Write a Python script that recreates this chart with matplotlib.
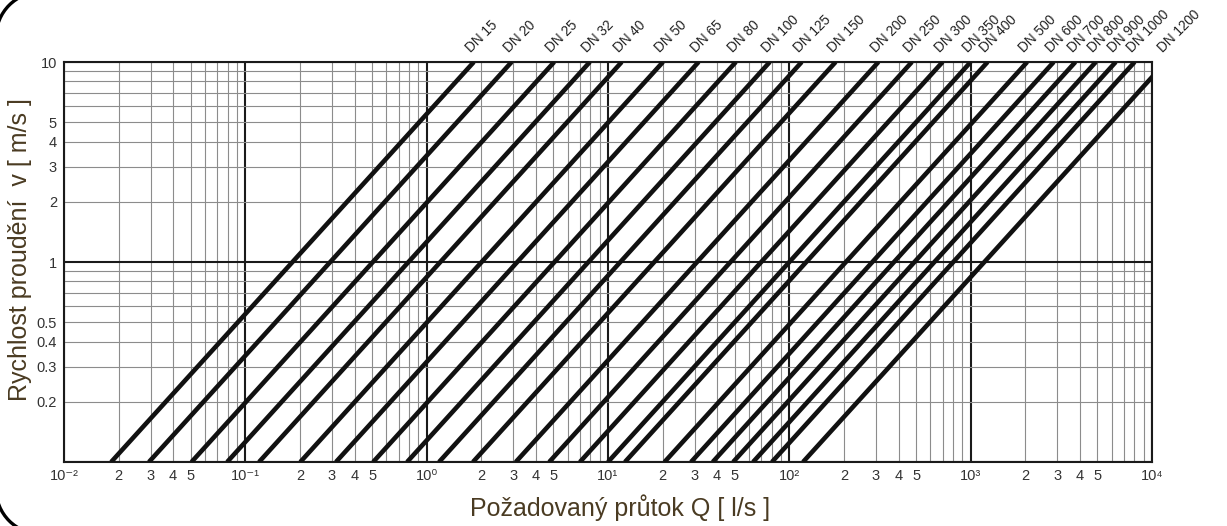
import numpy as np
import matplotlib
matplotlib.use('Agg')
import matplotlib.pyplot as plt
from matplotlib.patches import Arc
from matplotlib.ticker import FixedLocator, FuncFormatter
from matplotlib.transforms import IdentityTransform

plt.rcParams['font.family'] = ['Liberation Sans', 'DejaVu Sans']

# pipe sizes
dn_labels = ['DN 15', 'DN 20', 'DN 25', 'DN 32', 'DN 40', 'DN 50', 'DN 65', 'DN 80',
             'DN 100', 'DN 125', 'DN 150', 'DN 200', 'DN 250', 'DN 300', 'DN 350',
             'DN 400', 'DN 500', 'DN 600', 'DN 700', 'DN 800', 'DN 900', 'DN 1000',
             'DN 1200']
# flow Q [l/s] where each line meets v = 0.1 m/s and v = 10 m/s
v_low, v_high = 0.1, 10.0
q_low = [0.0182, 0.0294, 0.0505, 0.0794, 0.119, 0.201, 0.316, 0.507,
         0.780, 1.17, 1.80, 3.10, 4.74, 7.0, 10.0,
         12.4, 20.5, 28.7, 37.8, 49.0, 63.1, 80.2,
         119]
q_high = [1.82, 2.94, 5.05, 7.94, 11.9, 20.1, 31.6, 50.7,
          78.0, 117, 180, 310, 474, 700, 1000,
          1240, 2050, 2870, 3780, 4900, 6310, 8020,
          11900]

x_major = [1e-2, 1e-1, 1e0, 1e1, 1e2, 1e3, 1e4]
x_major_labels = ['10⁻²', '10⁻¹', '10⁰', '10¹', '10²', '10³', '10⁴']
y_major = [0.1, 1, 10]
y_major_labels = ['', '1', '10']

brown = '#4a3b22'

fig = plt.figure(figsize=(12.27, 5.26), dpi=100)
ax = fig.add_axes([64/1227, 64/526, (1152-64)/1227, 400/526])
ax.set_xscale('log')
ax.set_yscale('log')
ax.set_xlim(1e-2, 1e4)
ax.set_ylim(0.1, 10)

# ticks / grid
x_minor = [m*d for d in x_major[:-1] for m in range(2, 10)]
y_minor = [m*d for d in y_major[:-1] for m in range(2, 10)]
ax.xaxis.set_major_locator(FixedLocator(x_major))
ax.xaxis.set_minor_locator(FixedLocator(x_minor))
ax.yaxis.set_major_locator(FixedLocator(y_major))
ax.yaxis.set_minor_locator(FixedLocator(y_minor))
ax.set_xticklabels(x_major_labels)
ax.set_yticklabels(y_major_labels)

def x_minor_fmt(val, pos):
    m = int(round(val / 10**np.floor(np.log10(val) + 1e-9)))
    return str(m) if m in (2, 3, 4, 5) else ''

def y_minor_fmt(val, pos):
    m = int(round(val / 10**np.floor(np.log10(val) + 1e-9)))
    return ('%g' % val) if m in (2, 3, 4, 5) else ''

ax.xaxis.set_minor_formatter(FuncFormatter(x_minor_fmt))
ax.yaxis.set_minor_formatter(FuncFormatter(y_minor_fmt))
ax.tick_params(which='both', length=0, labelsize=10.5, colors='#333333')
ax.tick_params(axis='x', which='both', pad=5)
ax.tick_params(axis='y', which='both', pad=5)

ax.grid(which='minor', color='#8c8c8c', lw=0.8)
ax.grid(which='major', color='#1a1a1a', lw=1.5)
ax.set_axisbelow(True)
for s in ax.spines.values():
    s.set_linewidth(1.5)
    s.set_color('#1a1a1a')

# pipe lines
for lbl, q0, q1 in zip(dn_labels, q_low, q_high):
    ax.plot([q0, q1], [v_low, v_high], color='#111111', lw=3.3,
            solid_capstyle='butt', zorder=3)
    ax.annotate(lbl, xy=(q1, 1), xycoords=('data', 'axes fraction'),
                xytext=(-2, 6.5), textcoords='offset points',
                rotation=45, rotation_mode='anchor', ha='left', va='baseline',
                fontsize=9.8, color='#222222', annotation_clip=False)

fig.text(20/1227, 1 - 250/526, 'Rychlost proudění  v [ m/s ]', rotation=90,
         ha='center', va='center', fontsize=18, color=brown)
fig.text(620/1227, 1 - 508/526, 'Požadovaný průtok Q [ l/s ]',
         ha='center', va='center', fontsize=18, color=brown)

# rounded frame corners (the rest of the frame lies outside the picture)
for cy, t1, t2 in [(489, 90, 180), (37, 180, 270)]:
    fig.add_artist(Arc((41, cy), 90, 90, theta1=t1, theta2=t2, lw=2.4,
                       color='black', transform=IdentityTransform()))

fig.savefig('out.png', dpi=100)
